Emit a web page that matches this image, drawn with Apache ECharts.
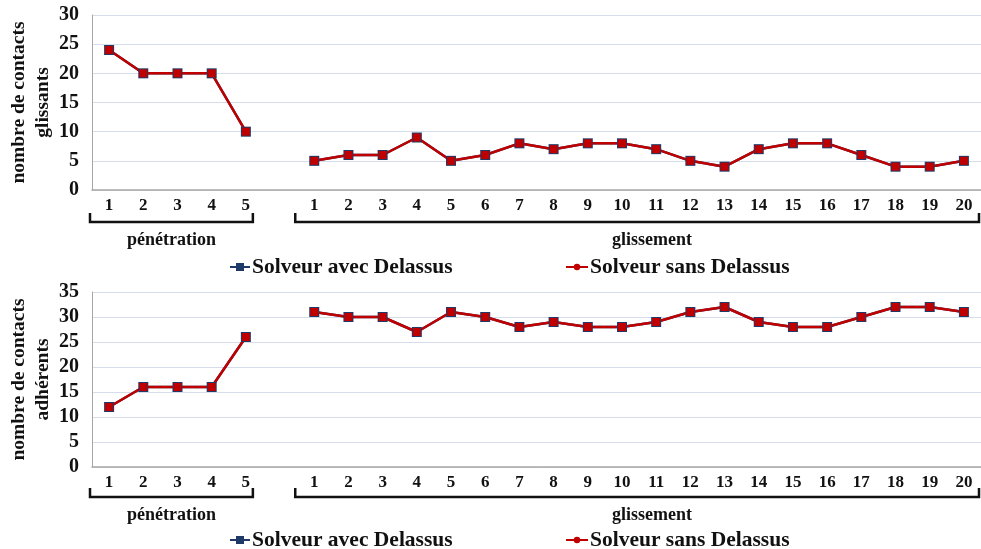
<!DOCTYPE html>
<html>
<head>
<meta charset="utf-8">
<script src="https://cdn.jsdelivr.net/npm/echarts@6/dist/echarts.min.js"></script>
<style>
  html, body { margin: 0; padding: 0; background: #ffffff; }
  #chart { width: 981px; height: 549px; }
</style>
</head>
<body>
<div id="chart"></div>
<script>
// Categories: 5 penetration steps, an empty spacer slot, then 20 sliding steps
const penetrationSteps = ['1', '2', '3', '4', '5'];
const slidingSteps = ['1','2','3','4','5','6','7','8','9','10','11','12','13','14','15','16','17','18','19','20'];
const categories = [...penetrationSteps, '', ...slidingSteps];

// Sliding contacts (glissants)
const glissantsPenetration = [24, 20, 20, 20, 10];
const glissantsSliding = [5, 6, 6, 9, 5, 6, 8, 7, 8, 8, 7, 5, 4, 7, 8, 8, 6, 4, 4, 5];

// Sticking contacts (adhérents)
const adherentsPenetration = [12, 16, 16, 16, 26];
const adherentsSliding = [31, 30, 30, 27, 31, 30, 28, 29, 28, 28, 29, 31, 32, 29, 28, 28, 30, 32, 32, 31];

// Tick values of the two value axes
const glissantsTicks = [0, 5, 10, 15, 20, 25, 30];
const adherentsTicks = [0, 5, 10, 15, 20, 25, 30, 35];

const seriesAvec = 'Solveur avec Delassus';
const seriesSans = 'Solveur sans Delassus';
const phaseLabels = ['pénétration', 'glissement'];
const axisTitles = ['nombre de contacts\nglissants', 'nombre de contacts\nadhérents'];

// A null in the spacer slot breaks the line between the two phases
const glissants = [...glissantsPenetration, null, ...glissantsSliding];
const adherents = [...adherentsPenetration, null, ...adherentsSliding];

const SERIF = '"Liberation Serif", "Times New Roman", serif';
const NAVY = '#1F3A68';
const RED = '#C00000';
const GRID_COLOR = '#D5DDEA';
const AXIS_COLOR = '#A6A6A6';

// Legend icon for the red series: a short line with a round dot
const LINE_DOT_ICON = 'path://M0,2.25L22,2.25L22,4.25L0,4.25Z M14.25,3.25A3.25,3.25 0 1 1 7.75,3.25A3.25,3.25 0 1 1 14.25,3.25Z';

const chart = echarts.init(document.getElementById('chart'), null, { renderer: 'canvas' });

function xAxisFor(gridIndex) {
  return {
    type: 'category',
    gridIndex: gridIndex,
    data: categories,
    boundaryGap: true,
    axisLine: { show: true, lineStyle: { color: AXIS_COLOR, width: 1.5 } },
    axisTick: { show: false },
    axisLabel: {
      interval: 0, margin: 7,
      fontFamily: SERIF, fontWeight: 'bold', fontSize: 17, color: '#111'
    },
    splitLine: { show: false }
  };
}

function yAxisFor(gridIndex, ticks) {
  return {
    type: 'value',
    gridIndex: gridIndex,
    min: ticks[0],
    max: ticks[ticks.length - 1],
    interval: ticks[1] - ticks[0],
    axisLine: { show: true, lineStyle: { color: AXIS_COLOR, width: 1 } },
    axisTick: { show: false },
    axisLabel: {
      margin: 13,
      fontFamily: SERIF, fontWeight: 'bold', fontSize: 20, color: '#111'
    },
    splitLine: { show: true, lineStyle: { color: GRID_COLOR, width: 1 } }
  };
}

function seriesPair(index, values) {
  return [
    {
      name: seriesAvec, type: 'line', xAxisIndex: index, yAxisIndex: index,
      data: values, symbol: 'rect', symbolSize: 10,
      lineStyle: { color: NAVY, width: 2.5 },
      itemStyle: { color: NAVY },
      animation: false
    },
    {
      name: seriesSans, type: 'line', xAxisIndex: index, yAxisIndex: index,
      data: values, symbol: 'rect', symbolSize: 8,
      lineStyle: { color: RED, width: 2.5 },
      itemStyle: { color: RED },
      animation: false
    }
  ];
}

const legendText = { fontFamily: SERIF, fontWeight: 'bold', fontSize: 21.5, color: '#111', padding: [0, 0, 0, -3] };

function legendsFor(top) {
  return [
    {
      top: top, left: 224,
      itemWidth: 20, itemHeight: 10,
      data: [seriesAvec],
      selectedMode: false,
      textStyle: legendText
    },
    {
      top: top, left: 561,
      itemWidth: 22, itemHeight: 6.5,
      data: [{ name: seriesSans, icon: LINE_DOT_ICON }],
      selectedMode: false,
      textStyle: legendText
    }
  ];
}

const option = {
  backgroundColor: '#ffffff',
  animation: false,
  grid: [
    { left: 92, right: 0, top: 15, height: 175, outerBoundsMode: 'none', containLabel: false },
    { left: 92, right: 0, top: 292, height: 175, outerBoundsMode: 'none', containLabel: false }
  ],
  xAxis: [xAxisFor(0), xAxisFor(1)],
  yAxis: [yAxisFor(0, glissantsTicks), yAxisFor(1, adherentsTicks)],
  legend: [...legendsFor(251), ...legendsFor(524)],
  series: [...seriesPair(0, glissants), ...seriesPair(1, adherents)]
};

chart.setOption(option);

// Rotated two-line title left of each value axis, centred on the plot height
function axisTitle(gridIndex, ticks) {
  const yTop = chart.convertToPixel({ yAxisIndex: gridIndex }, ticks[ticks.length - 1]);
  const yBottom = chart.convertToPixel({ yAxisIndex: gridIndex }, ticks[0]);
  return {
    type: 'text', x: 31, y: (yTop + yBottom) / 2, rotation: Math.PI / 2,
    style: {
      text: axisTitles[gridIndex], align: 'center', verticalAlign: 'middle',
      font: 'bold 19.5px ' + SERIF, lineHeight: 24, fill: '#111'
    },
    silent: true
  };
}

// Phase brackets under each category axis, placed from the axis scale
function bracketGraphics(gridIndex, lineY, textY) {
  const px = (cat) => chart.convertToPixel({ xAxisIndex: gridIndex }, cat);
  const band = px(1) - px(0);
  const penLeft = px(0) - band / 2 - 2;
  const penRight = px(4) + 7;
  const slideLeft = px(6) - 19;
  const slideRight = px(categories.length - 1) + band / 2 - 2;
  const style = { stroke: '#111', lineWidth: 2.5, fill: null };
  const bracket = (x1, x2) => ({
    type: 'polyline',
    shape: { points: [[x1, lineY - 9], [x1, lineY], [x2, lineY], [x2, lineY - 9]] },
    style: style, silent: true
  });
  const label = (x, text) => ({
    type: 'text', x: x, y: textY,
    style: {
      text: text, align: 'center', verticalAlign: 'middle',
      font: 'bold 18px ' + SERIF, fill: '#111'
    },
    silent: true
  });
  return [
    bracket(penLeft, penRight),
    bracket(slideLeft, slideRight),
    label((penLeft + penRight) / 2, phaseLabels[0]),
    label(652, phaseLabels[1])
  ];
}

chart.setOption({
  graphic: [
    axisTitle(0, glissantsTicks),
    axisTitle(1, adherentsTicks),
    ...bracketGraphics(0, 222, 240),
    ...bracketGraphics(1, 497, 515)
  ]
});
</script>
</body>
</html>
